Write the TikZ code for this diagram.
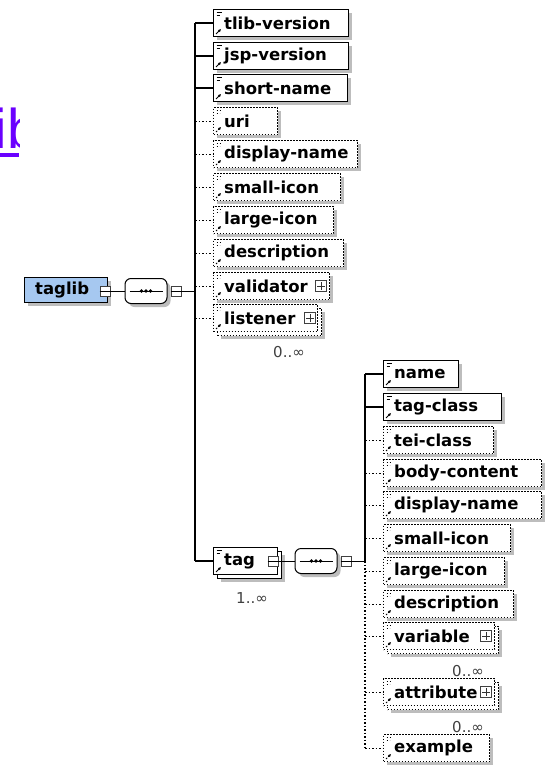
\documentclass[tikz,border=0pt]{standalone}
\usepackage{fontspec}
\setmainfont{DejaVu Sans}
\newfontfamily\linkfont{Liberation Sans}
\usetikzlibrary{shadows,arrows.meta}
\definecolor{tagblue}{HTML}{A6C8F0}
\definecolor{linkviolet}{HTML}{6A00FF}
\definecolor{shadowgray}{HTML}{BDBDBD}
\tikzset{
  elbase/.style={rectangle, fill=white, minimum height=27pt, inner sep=0pt, line width=1.1pt, anchor=west},
  req/.style={elbase, draw=black},
  opt/.style={elbase, draw=black, dash pattern=on 1.6pt off 1.4pt},
  shad/.style={drop shadow={shadow xshift=3.5pt, shadow yshift=-3.5pt, fill=shadowgray, opacity=1}},
  marks/.style={path picture={
      \draw[line width=0.9pt] ([xshift=3pt,yshift=-3pt]path picture bounding box.north west) -- ++(5pt,0);
      \draw[line width=0.9pt] ([xshift=3pt,yshift=-5.5pt]path picture bounding box.north west) -- ++(3pt,0);
      \draw[line width=0.9pt,-{Latex[length=3pt,width=3pt]}] ([xshift=2.5pt,yshift=2.5pt]path picture bounding box.south west) -- ++(5pt,5pt);}},
  lbl/.style={font=\bfseries\fontsize{16.5}{18}\selectfont, inner sep=0pt, anchor=west},
  mult/.style={font=\fontsize{15}{16}\selectfont, text=black!75, inner sep=0pt},
  conreq/.style={line width=1.2pt},
  conopt/.style={line width=1pt, dash pattern=on 1.5pt off 2pt},
  bus/.style={line width=1.8pt},
  msq/.style={rectangle, draw=black!75, fill=white, minimum size=10pt, inner sep=0pt, line width=0.8pt},
  pbox/.style={rectangle, draw=black!75, fill=white, minimum size=11pt, inner sep=0pt, line width=0.8pt},
  comp/.style={rectangle, rounded corners=6pt, draw=black, fill=white, line width=1pt, minimum width=42pt, minimum height=25pt, inner sep=0pt, shad},
}
% element box: name, style, x, y, width, text
\newcommand\elem[6]{%
  \node[#2, shad, marks, minimum width=#5pt] (#1) at (#3,#4) {};
  \node[lbl] (#1-t) at ([xshift=11pt]#1.west) {#6};}
\newcommand\stackel[6]{%
  \node[#2, shad, minimum width=#5pt, xshift=4pt, yshift=-4pt] (#1-b) at (#3,#4) {};
  \node[#2, marks, minimum width=#5pt] (#1) at (#3,#4) {};
  \node[lbl] (#1-t) at ([xshift=11pt]#1.west) {#6};}
\newcommand\plusicon[2]{%
  \node[pbox] (#1) at (#2) {};
  \draw[line width=0.8pt, black!80, shorten <=2pt, shorten >=2pt] (#1.west) -- (#1.east);
  \draw[line width=0.8pt, black!80, shorten <=2pt, shorten >=2pt] (#1.north) -- (#1.south);}
\newcommand\compdots[1]{%
  \draw[line width=1pt] ([xshift=5pt]#1.west) -- ([xshift=-5pt]#1.east);
  \fill (#1.center) circle (1.8pt) ([xshift=-4.5pt]#1.center) circle (1.8pt) ([xshift=4.5pt]#1.center) circle (1.8pt);}

\begin{document}
\begin{tikzpicture}[x=1pt,y=-1pt]
\useasboundingbox (0,0) rectangle (545,766);

% clipped link fragment
\begin{scope}
  \clip (0,100) rectangle (19,160);
  \node[text=linkviolet, font=\linkfont\fontsize{56}{60}\selectfont, anchor=base west, inner sep=0pt] (link) at (-5.5,148) {ib};
\end{scope}
\fill[linkviolet] (0,153) rectangle (19,156.5);

% bus coordinates
\coordinate (b1) at (195,0);
\coordinate (b2) at (365,0);

% ---- taglib and its sequence ----
\node[draw=black, fill=tagblue, line width=1pt, minimum width=83pt, minimum height=25pt, inner sep=0pt, anchor=west, shad] (taglib) at (24,290) {};
\node[lbl] (taglib-t) at (35,290) {taglib};
\node[comp] (c1) at (146,291) {};
\compdots{c1}
\node[msq] (m1) at (105,291) {};
\node[msq] (m2) at (176,291) {};
\draw[line width=0.9pt] (m1.west) -- (m1.east);
\draw[line width=0.9pt] (m2.west) -- (m2.east);
\draw[line width=0.9pt] (m1.east) -- (c1.west);
\draw[line width=0.9pt] (m2.east) -- (m2.east -| b1);

% ---- children of taglib ----
\elem{tlibversion}{req}{213}{23}{135}{tlib-version}
\elem{jspversion}{req}{213}{56}{135}{jsp-version}
\elem{shortname}{req}{213}{88}{134}{short-name}
\elem{uri}{opt}{213}{121}{64}{uri}
\elem{displayname}{opt}{213}{154}{144}{display-name}
\elem{smallicon}{opt}{213}{187}{127}{small-icon}
\elem{largeicon}{opt}{213}{220}{120}{large-icon}
\elem{description}{opt}{213}{253}{130}{description}
\elem{validator}{opt}{213}{286}{116}{validator}
\plusicon{validator-p}{321,286}
\stackel{listener}{opt}{213}{318}{104}{listener}
\plusicon{listener-p}{310,318}
\node[mult] (listener-m) at (289,352) {0..∞};

\stackel{tag}{req}{213}{561}{64}{tag}
\node[mult] (tag-m) at (252,598) {1..∞};

% top bus and stubs
\draw[bus] (tlibversion.west -| b1) -- (tag.west -| b1);
\foreach \n in {tlibversion,jspversion,shortname}
  \draw[conreq] (\n.west -| b1) -- (\n.west);
\foreach \n in {uri,displayname,smallicon,largeicon,description,validator,listener}
  \draw[conopt] (\n.west -| b1) -- (\n.west);
\draw[conreq] (tag.west -| b1) -- (tag.west);

% ---- tag sequence ----
\node[msq] (m3) at (273,561) {};
\draw[line width=0.9pt] (m3.west) -- (m3.east);
\node[comp] (c2) at (316,561) {};
\compdots{c2}
\node[msq] (m4) at (346,561) {};
\draw[line width=0.9pt] (m4.west) -- (m4.east);
\draw[line width=0.9pt] (m3.east) -- (c2.west);
\draw[line width=0.9pt] (m4.east) -- (m4.east -| b2);

% ---- children of tag ----
\elem{name}{req}{383}{374}{75}{name}
\elem{tagclass}{req}{383}{407}{118}{tag-class}
\elem{teiclass}{opt}{383}{440}{110}{tei-class}
\elem{bodycontent}{opt}{383}{473}{158}{body-content}
\elem{displayname2}{opt}{383}{505}{158}{display-name}
\elem{smallicon2}{opt}{383}{538}{127}{small-icon}
\elem{largeicon2}{opt}{383}{571}{121}{large-icon}
\elem{description2}{opt}{383}{604}{130}{description}
\stackel{variable}{opt}{383}{636}{111}{variable}
\plusicon{variable-p}{486,636}
\node[mult] (variable-m) at (468,671) {0..∞};
\stackel{attribute}{opt}{383}{692}{111}{attribute}
\plusicon{attribute-p}{486,692}
\node[mult] (attribute-m) at (468,727) {0..∞};
\elem{example}{opt}{383}{748}{106}{example}

% second bus and stubs
\draw[bus] (name.west -| b2) -- (m4.east -| b2);
\draw[line width=1.2pt, dash pattern=on 1.5pt off 2pt] (m4.east -| b2) -- (example.west -| b2);
\foreach \n in {name,tagclass}
  \draw[conreq] (\n.west -| b2) -- (\n.west);
\foreach \n in {teiclass,bodycontent,displayname2,smallicon2,largeicon2,description2,variable,attribute,example}
  \draw[conopt] (\n.west -| b2) -- (\n.west);
\end{tikzpicture}
\end{document}
